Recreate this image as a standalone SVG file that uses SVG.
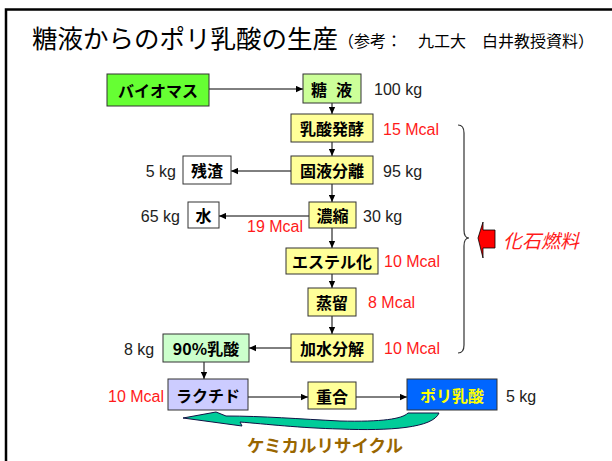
<svg xmlns="http://www.w3.org/2000/svg" width="612" height="461" viewBox="0 0 612 461">
<defs>
<marker id="ah" viewBox="0 0 10 10" refX="10" refY="5" markerWidth="7" markerHeight="7" markerUnits="userSpaceOnUse" orient="auto">
<path d="M0,0.5 L10,5 L0,9.5 Z" fill="#000"/>
</marker>
<style>
.bx{stroke:#333;stroke-width:1}
.y{fill:#ffff99}
.lb{font-family:"Noto Sans CJK JP",sans-serif;font-weight:bold;font-size:16px;fill:#000;text-anchor:middle;dominant-baseline:central}
.num{font-family:"Liberation Sans",Arial,sans-serif;font-size:16px;fill:#222}
.red{fill:#ff1a1a}
.cn line{stroke:#000;stroke-width:1;marker-end:url(#ah)}
</style>
</defs>
<rect width="612" height="461" fill="#fff"/>
<path d="M6,461 L6,9.5 L612,9.5" fill="none" stroke="#000" stroke-width="2.5"/>
<text x="32" y="48" font-family="'Noto Sans CJK JP',sans-serif" font-size="25.5" fill="#000">糖液からのポリ乳酸の生産</text>
<text x="338" y="47" font-family="'Noto Sans CJK JP',sans-serif" font-size="16" fill="#000">（参考：　九工大　白井教授資料）</text>

<g class="cn">
<line x1="209" y1="89" x2="303" y2="89"/>
<line x1="332" y1="103" x2="332" y2="114"/>
<line x1="332" y1="142" x2="332" y2="156"/>
<line x1="291" y1="171" x2="231" y2="171"/>
<line x1="332" y1="184" x2="332" y2="202"/>
<line x1="309" y1="216" x2="219" y2="216"/>
<line x1="332" y1="228" x2="332" y2="248"/>
<line x1="332" y1="274" x2="332" y2="288"/>
<line x1="332" y1="316" x2="332" y2="334"/>
<line x1="291" y1="348" x2="249" y2="348"/>
<line x1="204" y1="362" x2="204" y2="379"/>
<line x1="248" y1="397" x2="308" y2="397"/>
<line x1="356" y1="397" x2="407" y2="397"/>
</g>

<g id="biomass"><rect class="bx" x="107" y="74" width="102" height="32" fill="#66ff33"/><text class="lb" x="158" y="90" font-weight="normal" font-size="19">バイオマス</text></g>
<g id="touseki"><rect class="bx" x="303" y="74" width="58" height="29" fill="#ccff99"/><text class="lb" x="319" y="88.5">糖</text><text class="lb" x="344" y="88.5">液</text></g>
<g id="hakko"><rect class="bx y" x="291" y="114" width="82" height="28"/><text class="lb" x="332" y="128">乳酸発酵</text></g>
<g id="bunri"><rect class="bx y" x="291" y="156" width="82" height="28"/><text class="lb" x="332" y="170">固液分離</text></g>
<g id="zansa"><rect class="bx" x="183" y="156" width="48" height="28" fill="#fff"/><text class="lb" x="207" y="170">残渣</text></g>
<g id="noshuku"><rect class="bx y" x="309" y="202" width="47" height="26"/><text class="lb" x="332.5" y="215">濃縮</text></g>
<g id="mizu"><rect class="bx" x="188" y="202" width="31" height="26" fill="#fff"/><text class="lb" x="203.5" y="215">水</text></g>
<g id="ester"><rect class="bx y" x="286" y="248" width="92" height="26"/><text class="lb" x="332" y="261">エステル化</text></g>
<g id="joryu"><rect class="bx y" x="308" y="288" width="48" height="28"/><text class="lb" x="332" y="302">蒸留</text></g>
<g id="kasui"><rect class="bx y" x="291" y="334" width="82" height="28"/><text class="lb" x="332" y="348">加水分解</text></g>
<g id="nyusan90"><rect class="bx" x="163" y="334" width="86" height="28" fill="#ccffcc"/><text class="lb" x="206" y="348" font-size="17">90%乳酸</text></g>
<g id="lactide"><rect class="bx" x="168" y="379" width="80" height="31" fill="#ccccff"/><text class="lb" x="208" y="394.5" font-size="18">ラクチド</text></g>
<g id="jugo"><rect class="bx y" x="308" y="382" width="48" height="27"/><text class="lb" x="332" y="395.5">重合</text></g>
<g id="pla"><rect class="bx" x="407" y="379" width="90" height="31" fill="#0066ff"/><text class="lb" x="452" y="394.5" font-size="18" style="fill:#ffff00">ポリ乳酸</text></g>

<g id="values">
<text class="num" x="374" y="95">100 kg</text>
<text class="num red" x="383" y="135">15 Mcal</text>
<text class="num" x="383" y="177">95 kg</text>
<text class="num" x="176" y="177" text-anchor="end">5 kg</text>
<text class="num" x="180" y="222" text-anchor="end">65 kg</text>
<text class="num red" x="247" y="232">19 Mcal</text>
<text class="num" x="363" y="222">30 kg</text>
<text class="num red" x="384" y="267">10 Mcal</text>
<text class="num red" x="368" y="308">8 Mcal</text>
<text class="num red" x="384" y="354">10 Mcal</text>
<text class="num" x="124" y="355">8 kg</text>
<text class="num red" x="108" y="402">10 Mcal</text>
<text class="num" x="506" y="402">5 kg</text>
</g>

<g id="brace"><path d="M458,125 Q464,125 464,133 L464,230 Q464,238 469,238 Q464,238 464,246 L464,345 Q464,353 458,353" fill="none" stroke="#333" stroke-width="1.2"/></g>
<g id="fossil">
<path d="M478,238 L483,222 L483,230 L495,230 L495,248 L483,248 L483,258 Z" fill="#ff0000" stroke="#000" stroke-width="0.8"/>
<text x="503" y="248" font-family="'Noto Sans CJK JP',sans-serif" font-size="19" font-style="italic" fill="#ff1a1a">化石燃料</text>
</g>

<g id="recycle">
<path d="M439,413 C433,428 390,431 340,429 C300,428 265,424 240,422 L242,426 L183,418 L216,412 L226,416 C262,416 300,419 340,421 C382,422 402,419 408,413 Z" fill="#00cc99" stroke="#114" stroke-width="1"/>
<text x="247" y="452" font-family="'Noto Sans CJK JP',sans-serif" font-weight="bold" font-size="17.5" fill="#996600">ケミカルリサイクル</text>
</g>
</svg>
